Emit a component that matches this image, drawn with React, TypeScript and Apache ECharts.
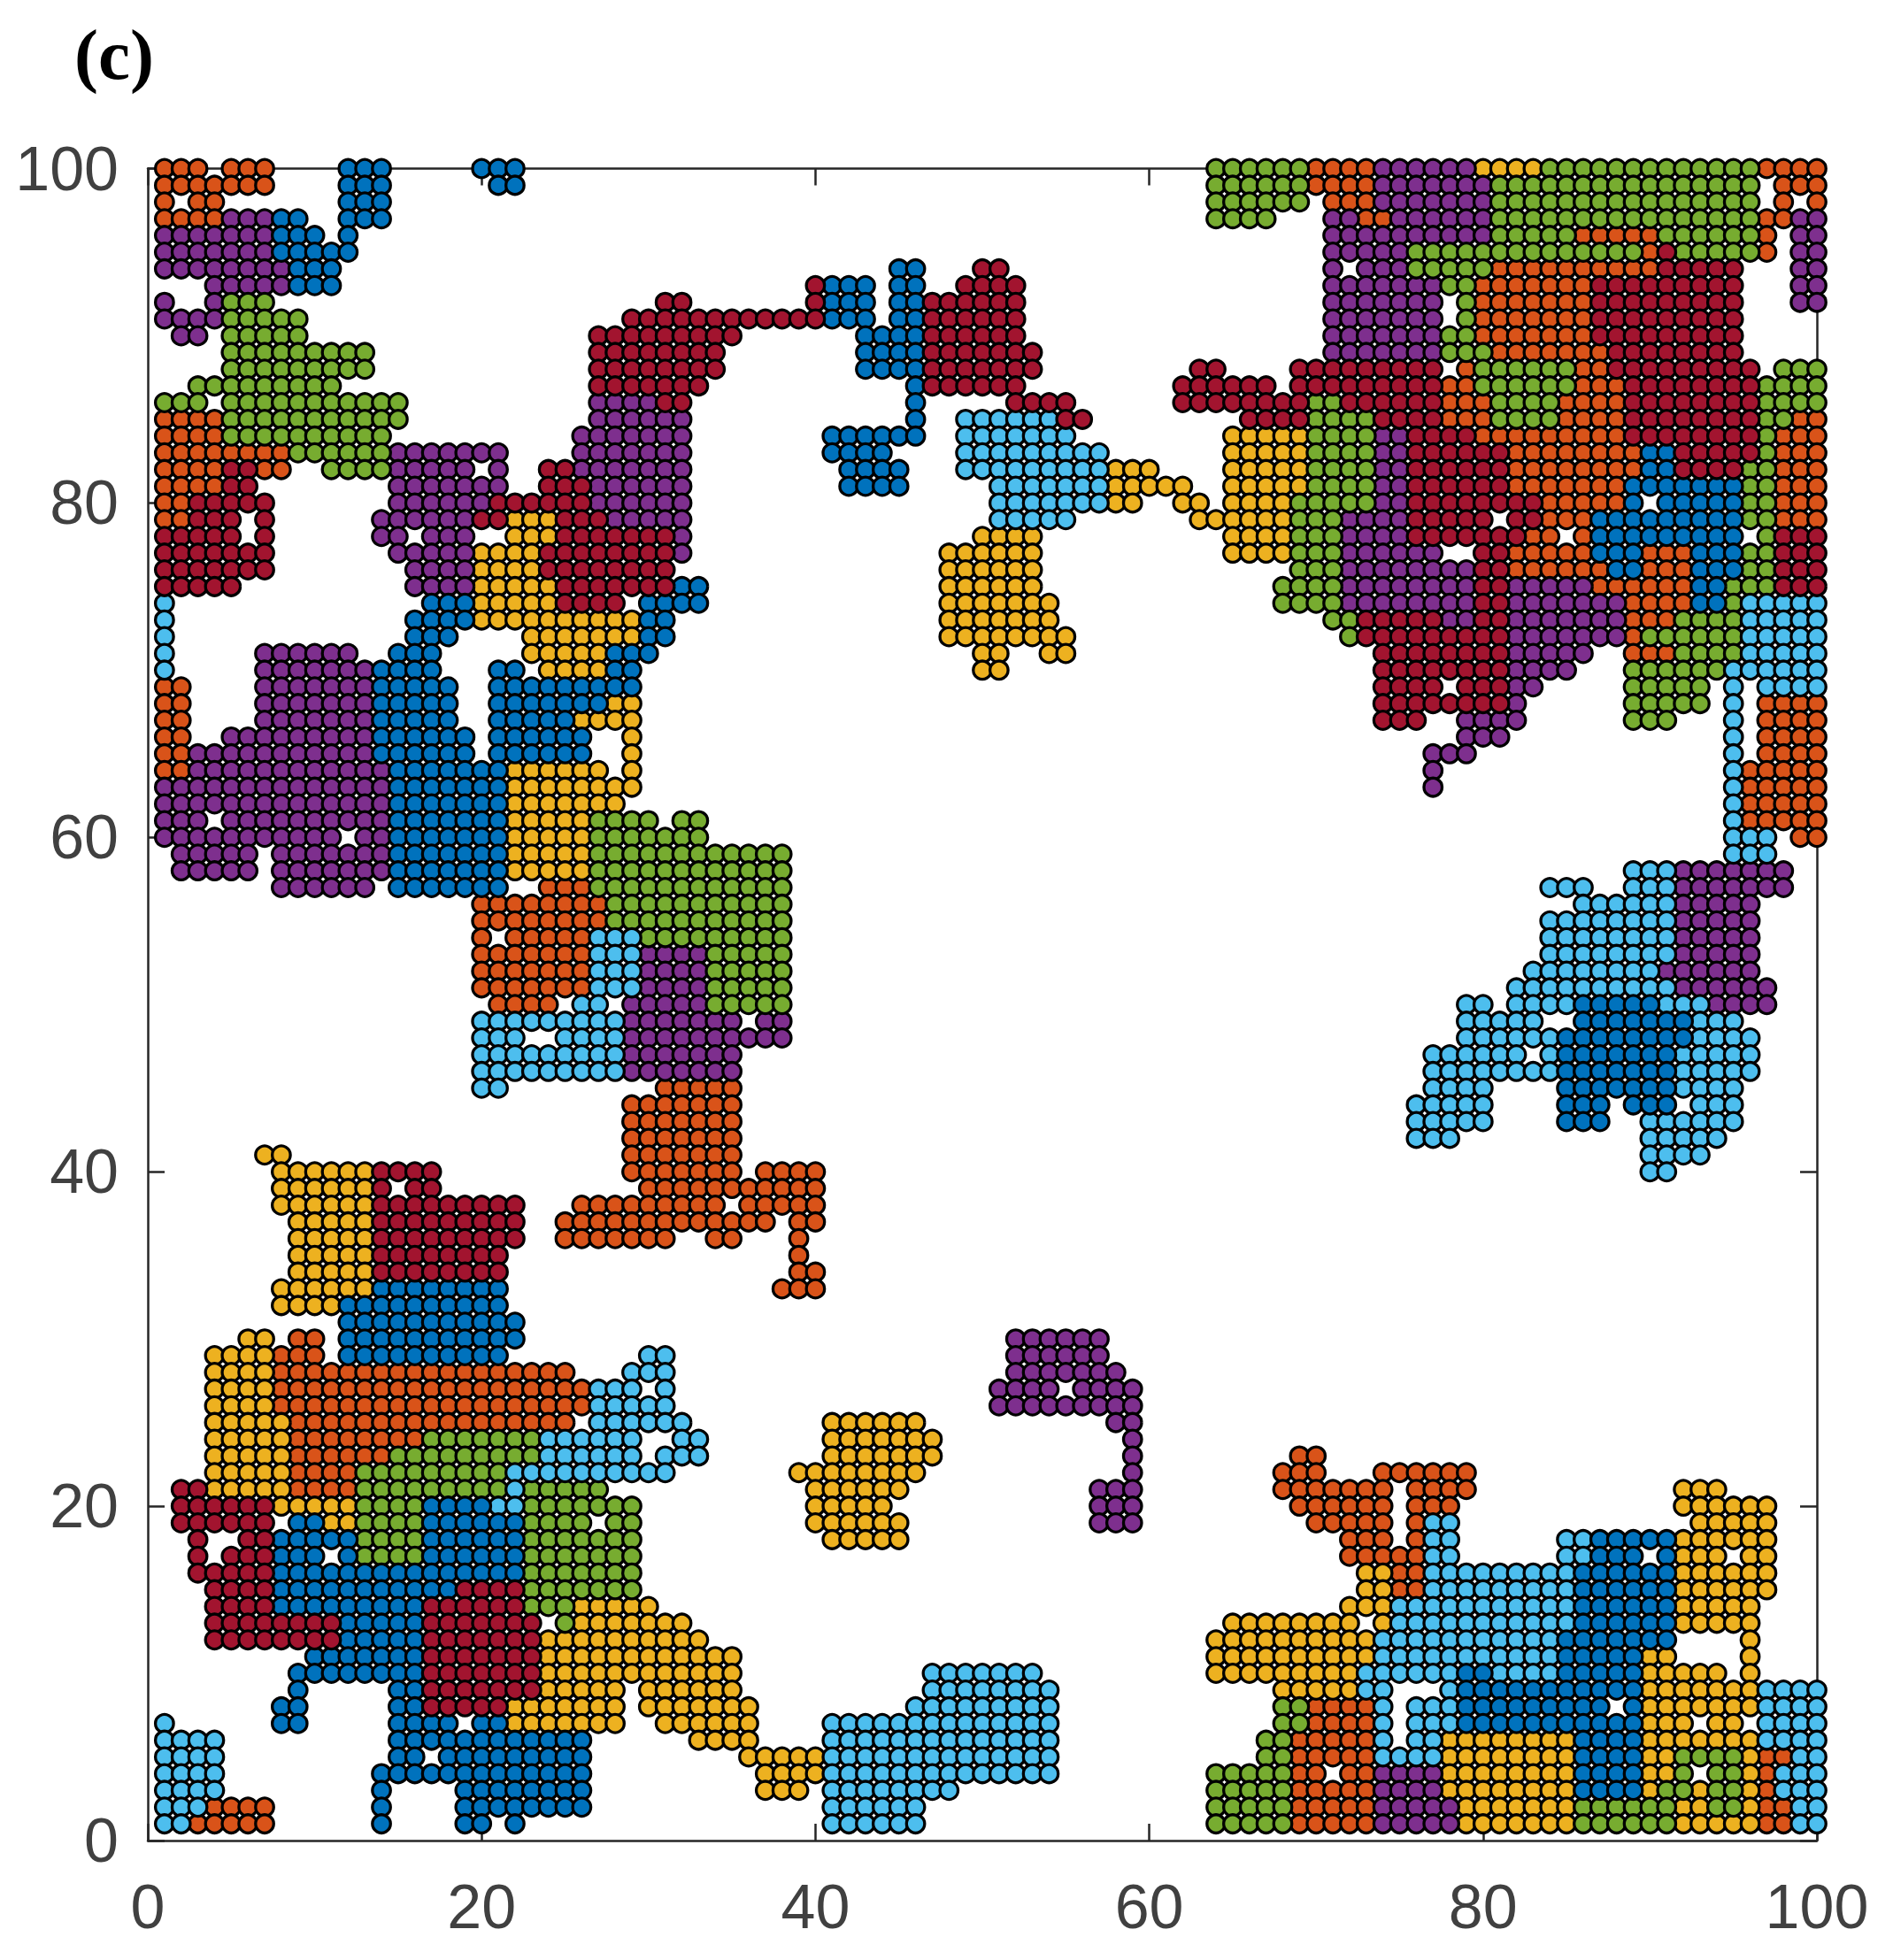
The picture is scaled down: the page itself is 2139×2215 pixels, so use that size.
import React, { useEffect, useRef } from "react";
import * as echarts from "echarts";

type Row = [number, string];

const tickValues = [0, 20, 40, 60, 80, 100];
const panelLabel = "(c)";

const orangeRows: Row[] = [
  [100,"1-3 5-7 70-73 97-100"],[99,"1-7 70-73 98-100"],[98,"1 3-4 71-73 98 100"],[97,"1-4 73-74 97-98"],
  [96,"86-90 97"],[95,"90 97"],[94,"81-90"],[93,"80-86"],[92,"80-86"],[91,"80-86"],[90,"80-86"],[89,"81-87"],
  [88,"79 86-87"],[87,"78-79 86-88"],[86,"78-80 85-88"],[85,"1-4 78-80 85-88 99-100"],[84,"1-4 80-88 98-100"],
  [83,"1-8 82-89 98-100"],[82,"1-4 7-8 82-89 98-100"],[81,"1-4 82-88 98-100"],[80,"1-2 84-88 98-100"],
  [79,"1-2 84-86 98-100"],[78,"83-84 86"],[77,"82-86 90-92"],[76,"82-87 90-92"],[75,"87-92"],[74,"89-92"],
  [73,"89-91"],[72,"89"],[71,"89-91"],[69,"1-2"],[68,"1-2 97-100"],[67,"1-2 97-100"],[66,"1-2 97-100"],
  [65,"1-2 97-100"],[64,"1-2 96-100"],[63,"96-100"],[62,"96-100"],[61,"96-100"],[60,"99-100"],
  [57,"24-26"],[56,"20-27"],[55,"20-27"],[54,"20 22-26"],[53,"20-26"],[52,"20-26"],[51,"20-26"],[50,"21-24"],
  [45,"31-35"],[44,"29-35"],[43,"29-35"],[42,"29-35"],[41,"29-35"],[40,"29-35 37-40"],[39,"30-40"],
  [38,"26-34 36-40"],[37,"25-37 39-40"],[36,"25-31 34-35 39"],[35,"39"],[34,"39-40"],[33,"38-40"],
  [30,"9-10"],[29,"8-10"],[28,"8-25"],[27,"8-26"],[26,"8-26"],[25,"9-25"],[24,"9-16"],[23,"9-14 69-70"],
  [22,"9-12 68-70 74-79"],[21,"9-12 68-74 76-79"],[20,"69-74 76-78"],[19,"70-74 76"],[18,"72-74 76"],
  [17,"72-76"],[16,"75-76"],[15,"75-76"],[8,"70-73"],[7,"70-73"],[6,"69-73"],[5,"69-73 97-98"],
  [4,"69-70 72-73 97"],[3,"69-73 97"],[2,"4-7 69-73 97-98"],[1,"3-7 69-73 97-98"],
];

const yellowRows: Row[] = [
  [100,"80-83"],[84,"65-69"],[83,"65-69"],[82,"58-60 65-69"],[81,"58-62 65-69"],[80,"58-59 62-63 65-68"],
  [79,"22-24 63-68"],[78,"22-24 50-53 65-68"],[77,"20-23 48-53 65-68"],[76,"20-23 48-53"],[75,"20-24 48-53"],
  [74,"20-24 48-54"],[73,"20-29 48-54"],[72,"23-29 48-55"],[71,"23-27 50-51 54-55"],[70,"24-27 50-51"],
  [68,"28-29"],[67,"26-29"],[66,"29"],[65,"29"],[64,"22-27 29"],[63,"22-29"],[62,"22-28"],[61,"22-26"],
  [60,"22-26"],[59,"22-26"],[58,"22-26"],[41,"7-8"],[40,"8-13"],[39,"8-13"],[38,"8-13"],[37,"9-13"],
  [36,"9-13"],[35,"9-13"],[34,"9-13"],[33,"8-13"],[32,"8-11"],[30,"6-7"],[29,"4-7"],[28,"4-7"],[27,"4-7"],
  [26,"4-7"],[25,"4-8 41-46"],[24,"4-8 41-47"],[23,"4-8 41-47"],[22,"4-8 39-46"],[21,"4-8 40-45 92-94"],
  [20,"8-12 40-44 92-97"],[19,"11-12 40-45 93-97"],[18,"41-45 92-97"],[17,"92-94 96-97"],[16,"73-74 92-97"],
  [15,"73-74 92-97"],[14,"26-30 72-74 92-96"],[13,"26-32 65-72 74 92-96"],[12,"24-33 64-73 96"],
  [11,"24-35 64-73 90-91 96"],[10,"24-35 64-72 90-94 96"],[9,"24-28 30-35 68-72 90-96"],[8,"22-28 30-36 90-96"],
  [7,"22-28 31-36 90-92 94-95"],[6,"33-36 78-85 90-96"],[5,"36-40 78-85 90-91 96"],[4,"37-40 78-85 90-91 96"],
  [3,"37-39 78-85 90 93 96"],[2,"79-85 92-93 96"],[1,"79-85 92-96"],
];

const purpleRows: Row[] = [
  [100,"74-79"],[99,"74-80"],[98,"74-80"],[97,"5-7 71-72 75-80 99-100"],[96,"1-7 71-80 99-100"],
  [95,"1-7 71-75 99-100"],[94,"1-8 71 73-75 99-100"],[93,"4-8 71-77 99-100"],[92,"1 4 71-77 99-100"],
  [91,"1-4 71-77"],[90,"2-3 71-77"],[89,"71-77"],[86,"27-30"],[85,"27-32"],[84,"26-32 74-75"],
  [83,"15-21 26-32 74-75"],[82,"15-19 21 26-32 74-75"],[81,"15-21 27-32 74-75"],[80,"15-20 27-32 74-75"],
  [79,"14-19 28-32 72-75"],[78,"14-15 17-19 32 72-75"],[77,"15-19 32 72-77"],[76,"16-19 72-79"],
  [75,"16-19 72-79 82-86"],[74,"72-79 82-88"],[73,"78-79 82-88"],[72,"82-88"],[71,"7-12 82-86"],
  [70,"7-13 82-85"],[69,"7-13 82-83"],[68,"7-13 82"],[67,"7-13 79-82"],[66,"5-13 79-81"],[65,"3-13 77-79"],
  [64,"3-14 77"],[63,"1-14 77"],[62,"1-14"],[61,"1-3 5-14"],[60,"1-11 13-14"],[59,"2-6 8-14"],
  [58,"2-6 8-14 92-98"],[57,"8-13 92-98"],[56,"92-96"],[55,"92-96"],[54,"92-96"],[53,"30-33 92-96"],
  [52,"30-33 91-96"],[51,"30-33 92-97"],[50,"29-33 94-97"],[49,"29-35 37-38"],[48,"29-38"],[47,"29-35"],
  [46,"29-35"],[30,"52-57"],[29,"52-57"],[28,"52-58"],[27,"51-54 56-59"],[26,"51-59"],[25,"58-59"],
  [24,"59"],[23,"59"],[22,"59"],[21,"57-59"],[20,"57-59"],[19,"57-59"],[4,"74-77"],[3,"74-77"],[2,"74-78"],[1,"74-78"],
];

const greenRows: Row[] = [
  [100,"64-69 84-96"],[99,"64-69 81-96"],[98,"64-69 81-96"],[97,"64-67 81-96"],[96,"81-85 91-96"],
  [95,"76-89 92-96"],[94,"76-80"],[93,"78-79"],[92,"5-7 79"],[91,"5-9 79"],[90,"5-9 78-79"],[89,"5-13 78-80"],
  [88,"5-13 80-85 98-100"],[87,"3-11 80-85 97-100"],[86,"1-3 5-15 70-71 81-84 97-100"],[85,"5-15 70-73 81-84 97-98"],
  [84,"5-14 70-73 97"],[83,"9-14 70-73 97"],[82,"11-14 70-73 96-97"],[81,"70-73 96-97"],[80,"69-73 96-97"],
  [79,"69-71 96-97"],[78,"69-71 97"],[77,"69-71 96-97"],[76,"69-71 96-97"],[75,"68-71 95-97"],[74,"68-71 95"],
  [73,"71-72 92-95"],[72,"72 90-95"],[71,"92-95"],[70,"89-94"],[69,"89-93"],[68,"89-93"],[67,"89-91"],
  [61,"27-30 32-33"],[60,"27-33"],[59,"27-38"],[58,"27-38"],[57,"27-38"],[56,"28-38"],[55,"28-38"],[54,"30-38"],
  [53,"34-38"],[52,"34-38"],[51,"34-38"],[50,"34-38"],[24,"17-23"],[23,"15-23"],[22,"13-21"],[21,"13-21 23-27"],
  [20,"13-16 23-29"],[19,"13-16 23-26 28-29"],[18,"13-16 23-29"],[17,"13-16 23-29"],[16,"23-29"],[15,"23-29"],
  [14,"23-25"],[13,"25"],[8,"68-69"],[7,"68-69"],[6,"67-68"],[5,"67-68 92-95"],[4,"64-68 92 94-95"],
  [3,"64-68 91-92 94-95"],[2,"64-68 86-91 94-95"],[1,"64-68 86-91"],
];

const lightBlueRows: Row[] = [
  [85,"49-54"],[84,"49-55"],[83,"49-57"],[82,"49-57"],[81,"51-57"],[80,"51-57"],[79,"51-55"],
  [74,"1 96-100"],[73,"1 96-100"],[72,"1 96-100"],[71,"1 96-100"],[70,"1 95-100"],[69,"95 97-100"],
  [68,"95"],[67,"95"],[66,"95"],[65,"95"],[64,"95"],[63,"95"],[62,"95"],[61,"95"],[60,"95-97"],[59,"95-97"],
  [58,"89-91"],[57,"84-86 89-91"],[56,"86-91"],[55,"84-91"],[54,"27-29 84-91"],[53,"27-29 84-91"],
  [52,"27-29 83-90"],[51,"27-29 82-91"],[50,"26-27 79-80 82-85 91-93"],[49,"20-28 79-83 93-95"],
  [48,"20-22 25-28 79-84 93-96"],[47,"20-28 77-82 84 92-96"],[46,"20-28 77-84 92-96"],[45,"20-21 77-80 92-95"],
  [44,"76-80 93-95"],[43,"76-80 90-95"],[42,"76-78 90-94"],[41,"90-93"],[40,"90-91"],[29,"30-31"],[28,"29-31"],
  [27,"27-29 31"],[26,"27-31"],[25,"27-32"],[24,"24-29 32-33"],[23,"24-29 31-33"],[22,"22-31"],[21,"22"],
  [20,"21-22"],[19,"77-78"],[18,"77-78 85-86"],[17,"77-78 85-86"],[16,"77-85"],[15,"77-85"],[14,"75-85"],
  [13,"75-85"],[12,"74-84"],[11,"74-84"],[10,"47-53 73-78 81-84"],[9,"47-54 73-74 78 97-100"],
  [8,"46-54 74 76-78 97-100"],[7,"1 41-54 74 76-78 97-100"],[6,"1-4 41-54 74 76-77 97-100"],
  [5,"1-4 41-54 74-77 99-100"],[4,"1-4 41-54 98-100"],[3,"1-4 41-48 98-100"],[2,"1-3 41-46 99-100"],[1,"1-2 41-46 99-100"],
];

const blueRows: Row[] = [
  [100,"12-14 20-22"],[99,"12-14 21-22"],[98,"12-14"],[97,"8-9 12-14"],[96,"8-10 12"],[95,"8-12"],
  [94,"9-11 45-46"],[93,"9-11 41-43 45-46"],[92,"41-43 45-46"],[91,"41-43 45-46"],[90,"43-46"],[89,"43-46"],
  [88,"43-46"],[87,"46"],[86,"46"],[85,"46"],[84,"41-46"],[83,"41-44 90-91"],[82,"42-45 90-91"],[81,"42-45 89-95"],
  [80,"89 91-95"],[79,"87-95"],[78,"87-95"],[77,"87-89 93-95"],[76,"88-89 93-95"],[75,"32-33 93-94"],
  [74,"17-19 30-33 93-94"],[73,"16-19 30-31"],[72,"16-18 30-31"],[71,"15-17 28-30"],[70,"14-17 21-22 28-29"],
  [69,"14-18 21-29"],[68,"14-18 21-27"],[67,"14-18 21-25"],[66,"14-19 21-26"],[65,"14-19 21-26"],[64,"15-21"],
  [63,"15-21"],[62,"15-21"],[61,"15-21"],[60,"15-21"],[59,"15-21"],[58,"15-21"],[57,"15-21"],[50,"86-90"],
  [49,"86-92"],[48,"85-92"],[47,"85-91"],[46,"85-91"],[45,"85-91"],[44,"85-87 89-91"],[43,"85-87"],
  [33,"14-21"],[32,"12-21"],[31,"12-22"],[30,"12-22"],[29,"12-21"],[20,"17-20"],[19,"9-10 17-22"],
  [18,"8-12 17-22 87-91"],[17,"8-10 12 17-22 87-89 91"],[16,"8-22 86-91"],[15,"8-18 86-91"],[14,"8-16 86-91"],
  [13,"12-16 86-91"],[12,"12-16 85-91"],[11,"10-16 85-89"],[10,"9-16 79-80 85-89"],[9,"9 15-16 79-89"],
  [8,"8-9 15-16 79-87 89"],[7,"8-9 15-18 20-21 79-89"],[6,"15-26 86-89"],[5,"15-16 18-26 86-89"],
  [4,"14-26 86-89"],[3,"14 19-26 86-89"],[2,"14 19-26"],[1,"14 19-20 22"],
];

const redRows: Row[] = [
  [95,"91"],[94,"50-51 91-95"],[93,"40 49-52 87-95"],[92,"31-32 40 47-52 87-95"],[91,"29-40 47-52 87-95"],
  [90,"27-35 47-52 87-95"],[89,"27-34 47-53 88-95"],[88,"27-34 47-53 63-64 69-77 88-96"],
  [87,"27-33 47-52 62-67 69-77 89-96"],[86,"31-32 52-55 62-69 72-77 89-96"],[85,"55-56 66-69 74-77 89-96"],
  [84,"76-79 89-96"],[83,"76-81 92-96"],[82,"5-6 24-25 76-81 92-95"],[81,"5-6 24-26 76-81"],[80,"3-7 21-26 76-83"],
  [79,"3-5 7 20-21 25-27 76-80 82-83"],[78,"1-5 7 25-31 76-82 98-100"],[77,"1-7 24-31 80-81 98-100"],
  [76,"1-7 24-31 80-81 98-100"],[75,"1-5 25-31 80-81 98-100"],[74,"25-28 80-81"],[73,"73-77 80-81"],[72,"73-81"],
  [71,"74-81"],[70,"74-81"],[69,"74-77 79-81"],[68,"74-81"],[67,"74-76"],[40,"14-17"],[39,"14 16-17"],
  [38,"14-22"],[37,"14-22"],[36,"14-22"],[35,"14-21"],[34,"14-21"],[21,"2-3"],[20,"2-7"],[19,"2-7"],[18,"3 6-7"],
  [17,"3 5-7"],[16,"3-7"],[15,"4-7 19-22"],[14,"4-7 17-22"],[13,"4-11 17-23"],[12,"4-11 17-23"],[11,"17-23"],
  [10,"17-23"],[9,"17-23"],[8,"17-21"],
];

const clusters: { name: string; color: string; rows: Row[] }[] = [
  { name: "orange", color: "#D95319", rows: orangeRows },
  { name: "yellow", color: "#EDB120", rows: yellowRows },
  { name: "purple", color: "#7E2F8E", rows: purpleRows },
  { name: "green", color: "#77AC30", rows: greenRows },
  { name: "lightblue", color: "#4DBEEE", rows: lightBlueRows },
  { name: "blue", color: "#0072BD", rows: blueRows },
  { name: "red", color: "#A2142F", rows: redRows },
];

function expand(rows: Row[]): [number, number][] {
  const out: [number, number][] = [];
  for (const [y, spec] of rows) {
    for (const part of spec.split(" ")) {
      const [a, b] = part.split("-").map(Number);
      const end = b === undefined ? a : b;
      for (let x = a; x <= end; x++) out.push([x, y]);
    }
  }
  return out;
}

const AXIS_COLOR = "#262626";
const LABEL_COLOR = "#404040";
const FONT = "'Liberation Sans', Arial, sans-serif";

function axis(dim: "x" | "y", position: string, labelled: boolean) {
  return {
    type: "value",
    position,
    min: 0,
    max: 100,
    interval: 20,
    splitLine: { show: false },
    axisLine: { show: true, onZero: false, lineStyle: { color: AXIS_COLOR, width: 2.5 } },
    axisTick: { show: true, inside: true, length: 19, lineStyle: { color: AXIS_COLOR, width: 2.5 } },
    axisLabel: labelled
      ? {
          show: true,
          color: LABEL_COLOR,
          fontSize: 70,
          fontFamily: FONT,
          margin: dim === "x" ? 40 : 33,
          hideOverlap: false,
          showMinLabel: true,
          showMaxLabel: true,
          formatter: (v: number) => (tickValues.includes(v) ? String(v) : ""),
        }
      : { show: false },
  };
}

export default function App() {
  const ref = useRef<HTMLDivElement>(null);

  useEffect(() => {
    document.body.style.margin = "0";
    const chart = echarts.init(ref.current!, null, { renderer: "svg" });
    chart.setOption({
      animation: false,
      backgroundColor: "#ffffff",
      title: {
        text: panelLabel,
        left: 84,
        top: 21,
        padding: 0,
        textStyle: {
          fontFamily: "'Liberation Serif', 'Times New Roman', serif",
          fontWeight: "bold",
          fontSize: 81,
          color: "#000000",
        },
      },
      grid: { left: 167, top: 190.5, width: 1886, height: 1889.5, containLabel: false },
      xAxis: [axis("x", "bottom", true), axis("x", "top", false)],
      yAxis: [axis("y", "left", true), axis("y", "right", false)],
      series: clusters.map((c) => ({
        name: c.name,
        type: "scatter",
        clip: false,
        symbol: "circle",
        symbolSize: 20.5,
        silent: true,
        itemStyle: { color: c.color, borderColor: "#000000", borderWidth: 3.3, opacity: 1 },
        data: expand(c.rows),
      })),
    });
    return () => chart.dispose();
  }, []);

  return <div ref={ref} style={{ position: "absolute", left: 0, top: 0, width: 2139, height: 2215 }} />;
}
